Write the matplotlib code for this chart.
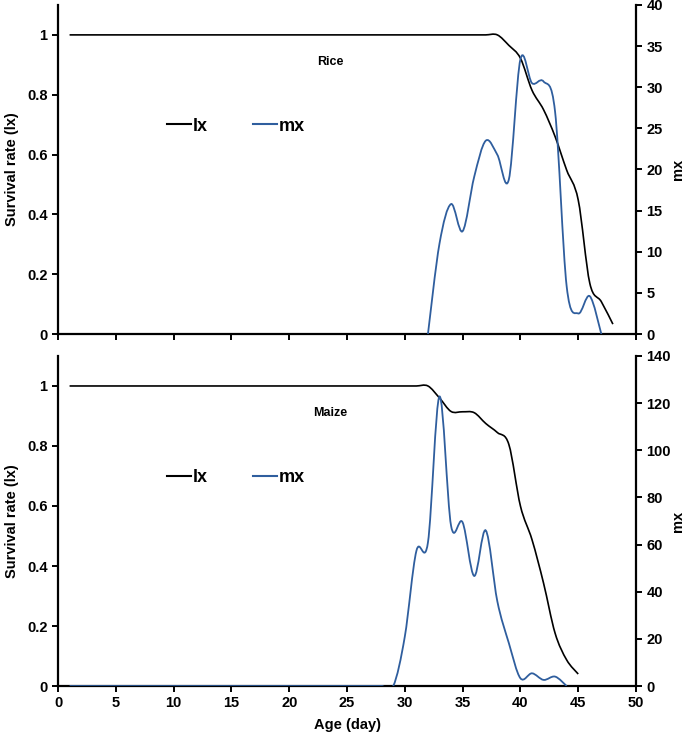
#! /usr/bin/env python3
"""Life table of the pest on rice and maize: survival (lx) and fecundity (mx)."""

import numpy as np
import matplotlib
matplotlib.use('Agg')
import matplotlib.pyplot as plt
from matplotlib.path import Path
from matplotlib.patches import PathPatch
from matplotlib.lines import Line2D

plt.rcParams['font.family'] = ['Liberation Sans', 'DejaVu Sans']
plt.rcParams['font.weight'] = 'bold'

# ── Data ──────────────────────────────────────────────────────────────────────
rice_lx_days = np.arange(1, 49)
rice_lx = [1.0] * 38 + [0.965, 0.922, 0.815, 0.75, 0.66, 0.548, 0.448,
                        0.17, 0.108, 0.033]
rice_mx_days = np.arange(32, 48)
rice_mx = [0, 11.0, 15.8, 12.5, 19.1, 23.5, 21.8, 18.8, 33.4, 30.5, 30.7,
           27.0, 5.8, 2.5, 4.6, 0]

maize_lx_days = np.arange(1, 46)
maize_lx = [1.0] * 32 + [0.96, 0.915, 0.914, 0.911, 0.875, 0.845, 0.805,
                         0.60, 0.488, 0.343, 0.176, 0.087, 0.04]
maize_mx_days = np.arange(1, 45)
maize_mx = [0] * 29 + [21, 57.3, 60.9, 122.8, 68, 69.4, 46.7, 66, 36, 18.2,
                       3.3, 5.4, 2.6, 4.0, 0]

LX_COLOR = 'black'
MX_COLOR = '#2f5e9e'


def smooth_path(x, y):
    """Excel-style smoothed line: cubic Bezier through every data point."""
    pts = np.column_stack([x, y]).astype(float)
    n = len(pts)
    verts, codes = [pts[0]], [Path.MOVETO]
    for i in range(n - 1):
        p0 = pts[max(i - 1, 0)]
        p1 = pts[i]
        p2 = pts[i + 1]
        p3 = pts[min(i + 2, n - 1)]
        verts += [p1 + (p2 - p0) / 6.0, p2 - (p3 - p1) / 6.0, p2]
        codes += [Path.CURVE4] * 3
    return Path(verts, codes)


def draw_panel(ax, lx_days, lx, mx_days, mx, mx_max, mx_step, crop, show_x):
    ax2 = ax.twinx()
    ax.add_patch(PathPatch(smooth_path(lx_days, lx), fill=False,
                           edgecolor=LX_COLOR, linewidth=1.2, zorder=3))
    ax2.add_patch(PathPatch(smooth_path(mx_days, mx), fill=False,
                            edgecolor=MX_COLOR, linewidth=1.3, zorder=3))

    ax.set_xlim(0, 50)
    ax.set_ylim(0, 1.1)
    ax2.set_ylim(0, mx_max)
    ax.set_xticks(np.arange(0, 51, 5))
    ax.set_yticks([0, 0.2, 0.4, 0.6, 0.8, 1.0])
    ax.set_yticklabels(['0', '0.2', '0.4', '0.6', '0.8', '1'])
    ax2.set_yticks(np.arange(0, mx_max + 1, mx_step))
    if not show_x:
        ax.set_xticklabels([])

    for a in (ax, ax2):
        a.spines['top'].set_visible(False)
        for s in ('left', 'right', 'bottom'):
            a.spines[s].set_linewidth(1.6)
        a.tick_params(direction='out', length=4, width=1.4, labelsize=10.5)
    ax.spines['right'].set_visible(False)
    ax2.spines['left'].set_visible(False)
    ax2.spines['bottom'].set_visible(False)

    ax.set_ylabel('Survival rate (lx)', fontsize=10.5, fontweight='bold')
    ax.yaxis.set_label_coords(-0.068, 0.5)
    ax2.set_ylabel('mx', fontsize=10.5, fontweight='bold')
    ax2.yaxis.set_label_coords(1.061, 0.5)

    ax.text(0.4706, 0.826, crop, transform=ax.transAxes, ha='center',
            va='center', fontsize=9, fontweight='bold')

    handles = [Line2D([], [], color=LX_COLOR, linewidth=1.5),
               Line2D([], [], color=MX_COLOR, linewidth=1.5)]
    ax.legend(handles, ['lx', 'mx'], ncol=2, frameon=False,
              loc='center left', bbox_to_anchor=(0.1886, 0.632),
              borderpad=0, borderaxespad=0, handlelength=1.3,
              handletextpad=0.1, columnspacing=2.55,
              prop={'size': 13, 'weight': 'bold'})
    return ax2


fig = plt.figure(figsize=(6.85, 7.32), dpi=100)
ax_top = fig.add_axes([0.0847, 0.5437, 0.8438, 0.4495])
ax_bot = fig.add_axes([0.0847, 0.0628, 0.8438, 0.4509])

draw_panel(ax_top, rice_lx_days, rice_lx, rice_mx_days, rice_mx,
           40, 5, 'Rice', show_x=False)
draw_panel(ax_bot, maize_lx_days, maize_lx, maize_mx_days, maize_mx,
           140, 20, 'Maize', show_x=True)

ax_bot.set_xlabel('Age (day)', fontsize=10.5, fontweight='bold')
ax_bot.xaxis.set_label_coords(0.5, -0.097)

fig.savefig('out.png', dpi=100)
plt.close(fig)
